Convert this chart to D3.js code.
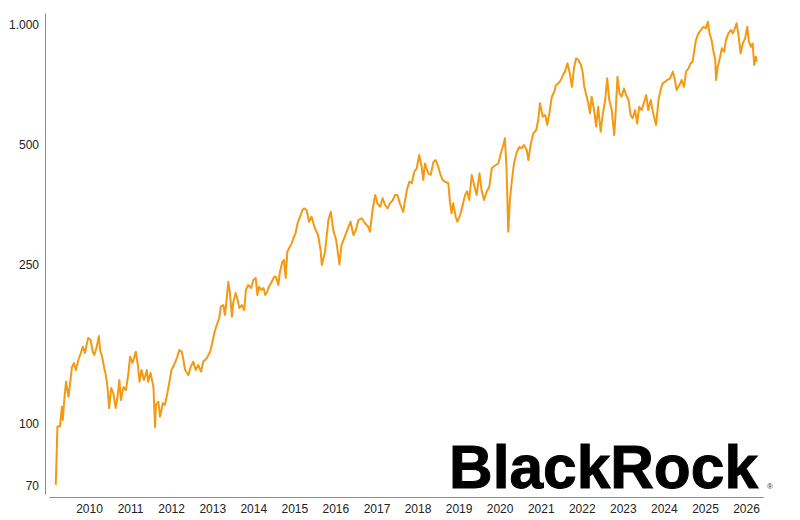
<!DOCTYPE html>
<html>
<head>
<meta charset="utf-8">
<script src="https://cdn.jsdelivr.net/npm/d3@7"></script>
<style>
  body { margin: 0; background: #fff; }
  svg { display: block; font-family: "Liberation Sans", Arial, sans-serif; }
</style>
</head>
<body>
<div id="chart"></div>
<script>
'use strict';

// Dates as decimal years
const dates = [
  2009.19, 2009.21, 2009.23, 2009.29, 2009.34, 2009.36, 2009.39, 2009.44, 2009.50, 2009.54, 2009.58, 2009.63, 2009.68, 2009.74, 2009.80, 2009.85, 2009.90, 2009.94, 2009.98,
  2010.04, 2010.09, 2010.13, 2010.19, 2010.24, 2010.27, 2010.32, 2010.37, 2010.41, 2010.45, 2010.49, 2010.54, 2010.59, 2010.65, 2010.70, 2010.74, 2010.78, 2010.84, 2010.90, 2010.96,
  2011.00, 2011.06, 2011.14, 2011.19, 2011.23, 2011.28, 2011.34, 2011.41, 2011.44, 2011.50, 2011.57, 2011.61, 2011.63, 2011.69, 2011.73, 2011.80, 2011.85, 2011.91, 2011.96,
  2012.01, 2012.07, 2012.14, 2012.20, 2012.26, 2012.30, 2012.34, 2012.42, 2012.48, 2012.54, 2012.60, 2012.66, 2012.73, 2012.78, 2012.87, 2012.95,
  2013.00, 2013.05, 2013.11, 2013.17, 2013.21, 2013.27, 2013.31, 2013.35, 2013.39, 2013.43, 2013.48, 2013.51, 2013.57, 2013.62, 2013.66, 2013.72, 2013.78, 2013.82, 2013.88, 2013.95,
  2014.00, 2014.06, 2014.10, 2014.14, 2014.19, 2014.25, 2014.29, 2014.34, 2014.38, 2014.45, 2014.51, 2014.55, 2014.61, 2014.65, 2014.71, 2014.75, 2014.79, 2014.83, 2014.87, 2014.92, 2014.98,
  2015.03, 2015.08, 2015.14, 2015.20, 2015.24, 2015.30, 2015.36, 2015.42, 2015.50, 2015.58, 2015.64, 2015.67, 2015.75, 2015.83, 2015.89, 2015.95,
  2016.02, 2016.10, 2016.15, 2016.23, 2016.32, 2016.37, 2016.44, 2016.50, 2016.56, 2016.64, 2016.72, 2016.80, 2016.84, 2016.91, 2016.97,
  2017.02, 2017.09, 2017.15, 2017.21, 2017.27, 2017.33, 2017.40, 2017.45, 2017.51, 2017.57, 2017.65, 2017.74, 2017.80, 2017.86, 2017.92, 2017.98,
  2018.04, 2018.10, 2018.14, 2018.18, 2018.26, 2018.32, 2018.39, 2018.44, 2018.49, 2018.55, 2018.61, 2018.67, 2018.75, 2018.79, 2018.83, 2018.87, 2018.93, 2018.97,
  2019.04, 2019.09, 2019.16, 2019.21, 2019.26, 2019.32, 2019.38, 2019.44, 2019.51, 2019.56, 2019.62, 2019.69, 2019.75, 2019.81, 2019.85, 2019.91, 2019.97,
  2020.03, 2020.09, 2020.13, 2020.17, 2020.21, 2020.25, 2020.30, 2020.35, 2020.42, 2020.48, 2020.54, 2020.59, 2020.66, 2020.70, 2020.76, 2020.82, 2020.89, 2020.94, 2020.98,
  2021.05, 2021.11, 2021.16, 2021.21, 2021.27, 2021.33, 2021.37, 2021.43, 2021.49, 2021.54, 2021.59, 2021.65, 2021.70, 2021.76, 2021.81, 2021.86, 2021.92, 2021.98,
  2022.02, 2022.06, 2022.12, 2022.16, 2022.20, 2022.24, 2022.30, 2022.35, 2022.40, 2022.46, 2022.51, 2022.57, 2022.62, 2022.67, 2022.73, 2022.79, 2022.82, 2022.87, 2022.92, 2022.97,
  2023.03, 2023.08, 2023.14, 2023.19, 2023.24, 2023.30, 2023.35, 2023.40, 2023.46, 2023.52, 2023.57, 2023.62, 2023.68, 2023.74, 2023.81, 2023.87, 2023.92, 2023.97,
  2024.03, 2024.08, 2024.15, 2024.22, 2024.27, 2024.31, 2024.38, 2024.43, 2024.49, 2024.54, 2024.60, 2024.65, 2024.70, 2024.73, 2024.78, 2024.84, 2024.90, 2024.96,
  2025.02, 2025.07, 2025.11, 2025.16, 2025.20, 2025.25, 2025.27, 2025.31, 2025.37, 2025.41, 2025.47, 2025.51, 2025.57, 2025.63, 2025.68, 2025.73, 2025.77, 2025.81, 2025.87, 2025.92, 2025.98,
  2026.03, 2026.07, 2026.12, 2026.16, 2026.20, 2026.24, 2026.26
];

const values = [
  70.2, 82.6, 98.3, 98.3, 110.3, 102.1, 112.6, 127.4, 116.8, 126.4, 137.9, 141.9, 136.3, 144.4, 150.4, 156, 150.4, 157.5, 164,
  162.1, 151.5, 148.7, 156, 165.9, 153, 147.2, 137.9, 132.4, 123.5, 109.4, 122.8, 119.4, 109.4, 118, 128.7, 114.6, 123.5, 121.4, 134,
  147.2, 141.9, 151.5, 140.3, 127.4, 136.3, 128.7, 136.3, 127.4, 134, 123.5, 97.9, 111.4, 113.5, 104.1, 112.6, 111.4, 119.4, 127.4,
  136.3, 140.3, 146.1, 153, 151.5, 144.4, 136.3, 132.4, 139, 143, 136.3, 140.3, 135, 143, 146.1, 151.5,
  159.3, 168.8, 176.8, 184.1, 196.5, 198.4, 187.3, 204.3, 227, 212.7, 185.5, 200.8, 212.7, 204.3, 195, 198.4, 192.8, 216.4, 222.7, 218.9,
  229.3, 231.9, 210.2, 220.5, 216.4, 218.9, 210.2, 214.3, 220.5, 227, 233.7, 233.7, 222.7, 240.5, 254.8, 257.4, 231.9, 270, 275.3, 280.6, 292.2,
  300.3, 318.2, 330.5, 343.5, 346.8, 343.5, 321, 330.5, 309.6, 297.3, 272.7, 250, 270, 324.2, 340, 306,
  288.9, 250.9, 280.6, 294.5, 311.9, 321, 297.3, 306, 324.2, 327.5, 318.2, 311.9, 303, 346.8, 374.6,
  357, 350, 367.6, 353.6, 346.8, 357, 364, 374.6, 374.6, 357, 340, 385.6, 404.5, 401, 428.5, 437,
  472, 441, 408.5, 449.6, 424.7, 420.5, 454, 458.5, 445.5, 424.7, 408.5, 404.5, 401, 360.4, 337, 357, 330.5, 321,
  333.7, 350, 374.6, 383, 364, 420.5, 396.9, 374.6, 424.7, 385.6, 364, 383, 393, 437, 441, 445.5, 449.6,
  476.7, 500, 520, 432.8, 303, 364, 408.5, 449.6, 481, 494.4, 490.6, 500, 485.8, 458.5, 504.9, 535, 545.3, 577.7, 636.3,
  589, 594.6, 561.2, 600.5, 661, 680, 707.1, 714, 727.9, 749.2, 764, 801.5, 764, 700, 778.6, 825, 817, 793.7,
  764, 700, 661, 636.3, 600.5, 661, 612, 556, 623.8, 540, 594.6, 648.4, 735, 648.4, 612, 529.7, 589, 741.8, 674, 661,
  693.6, 667.4, 648.4, 594.6, 583.4, 612, 566.3, 623.8, 612, 642, 667.4, 612, 648.4, 600.5, 561.2, 648.4, 687, 714,
  721, 727.9, 735, 764, 727.9, 687, 707.1, 727.9, 700, 764, 778.6, 801.5, 809, 849, 917, 953, 971.5, 990,
  981, 1019, 953, 917, 865.6, 817, 727.9, 786, 833, 874, 857, 917, 953, 971.5, 953, 981, 1010, 953, 849, 899, 926,
  990, 908, 882, 899, 793.7, 833, 809
];

const yTicks = [70, 100, 250, 500, 1000];
const xTickYears = [2010, 2011, 2012, 2013, 2014, 2015, 2016, 2017, 2018, 2019, 2020, 2021, 2022, 2023, 2024, 2025, 2026];

const width = 800;
const height = 520;
const lineColor = `#f39a12`;
const axisColor = `#8c8c8c`;

const toDate = (t) => {
  const yr = Math.floor(t);
  const start = new Date(yr, 0, 1);
  const end = new Date(yr + 1, 0, 1);
  return new Date(+start + (t - yr) * (end - start));
};

const data = dates.map((d, i) => ({ date: toDate(d), value: values[i] }));

const x = d3
  .scaleTime()
  .domain([new Date(2009, 0, 10), new Date(2026, 5, 1)])
  .range([49, 763]);

const y = d3.scaleLog().domain([66.6, 1072]).range([494, 13]);

const deLocale = d3.formatLocale({ decimal: `,`, thousands: `.`, grouping: [3], currency: [``, ` €`] });
const fmt = deLocale.format(`,`);

const svg = d3.select(`#chart`).append(`svg`).attr(`width`, width).attr(`height`, height);

// Y axis
svg
  .append(`g`)
  .attr(`transform`, `translate(45,0)`)
  .call(d3.axisLeft(y).tickValues(yTicks).tickFormat(fmt).tickSize(0).tickSizeOuter(0).tickPadding(6))
  .call((g) => g.select(`.domain`).attr(`stroke`, axisColor))
  .call((g) => g.selectAll(`text`).attr(`fill`, `#222`).attr(`font-size`, 12).attr(`font-family`, `"Liberation Sans", Arial, sans-serif`));

// X axis
svg
  .append(`g`)
  .attr(`transform`, `translate(0,497)`)
  .call(
    d3
      .axisBottom(x)
      .tickValues(xTickYears.map((yr) => new Date(yr, 0, 1)))
      .tickFormat(d3.timeFormat(`%Y`))
      .tickSize(0)
      .tickSizeOuter(0)
      .tickPadding(7)
  )
  .call((g) => g.select(`.domain`).attr(`stroke`, axisColor))
  .call((g) => g.selectAll(`text`).attr(`fill`, `#222`).attr(`font-size`, 12).attr(`font-family`, `"Liberation Sans", Arial, sans-serif`));

// Logo
svg
  .append(`text`)
  .attr(`x`, 449)
  .attr(`y`, 488)
  .attr(`font-size`, 62)
  .attr(`font-weight`, `bold`)
  .attr(`fill`, `#000`)
  .attr(`stroke`, `#000`)
  .attr(`stroke-width`, 1)
  .attr(`textLength`, 309)
  .attr(`lengthAdjust`, `spacingAndGlyphs`)
  .text(`BlackRock`);
svg.append(`text`).attr(`x`, 767).attr(`y`, 489).attr(`font-size`, 8).attr(`fill`, `#333`).text(`®`);

// Price line
const line = d3
  .line()
  .x((d) => x(d.date))
  .y((d) => y(d.value));

svg
  .append(`path`)
  .datum(data)
  .attr(`fill`, `none`)
  .attr(`stroke`, lineColor)
  .attr(`stroke-width`, 2)
  .attr(`stroke-linejoin`, `round`)
  .attr(`d`, line);
</script>
</body>
</html>
